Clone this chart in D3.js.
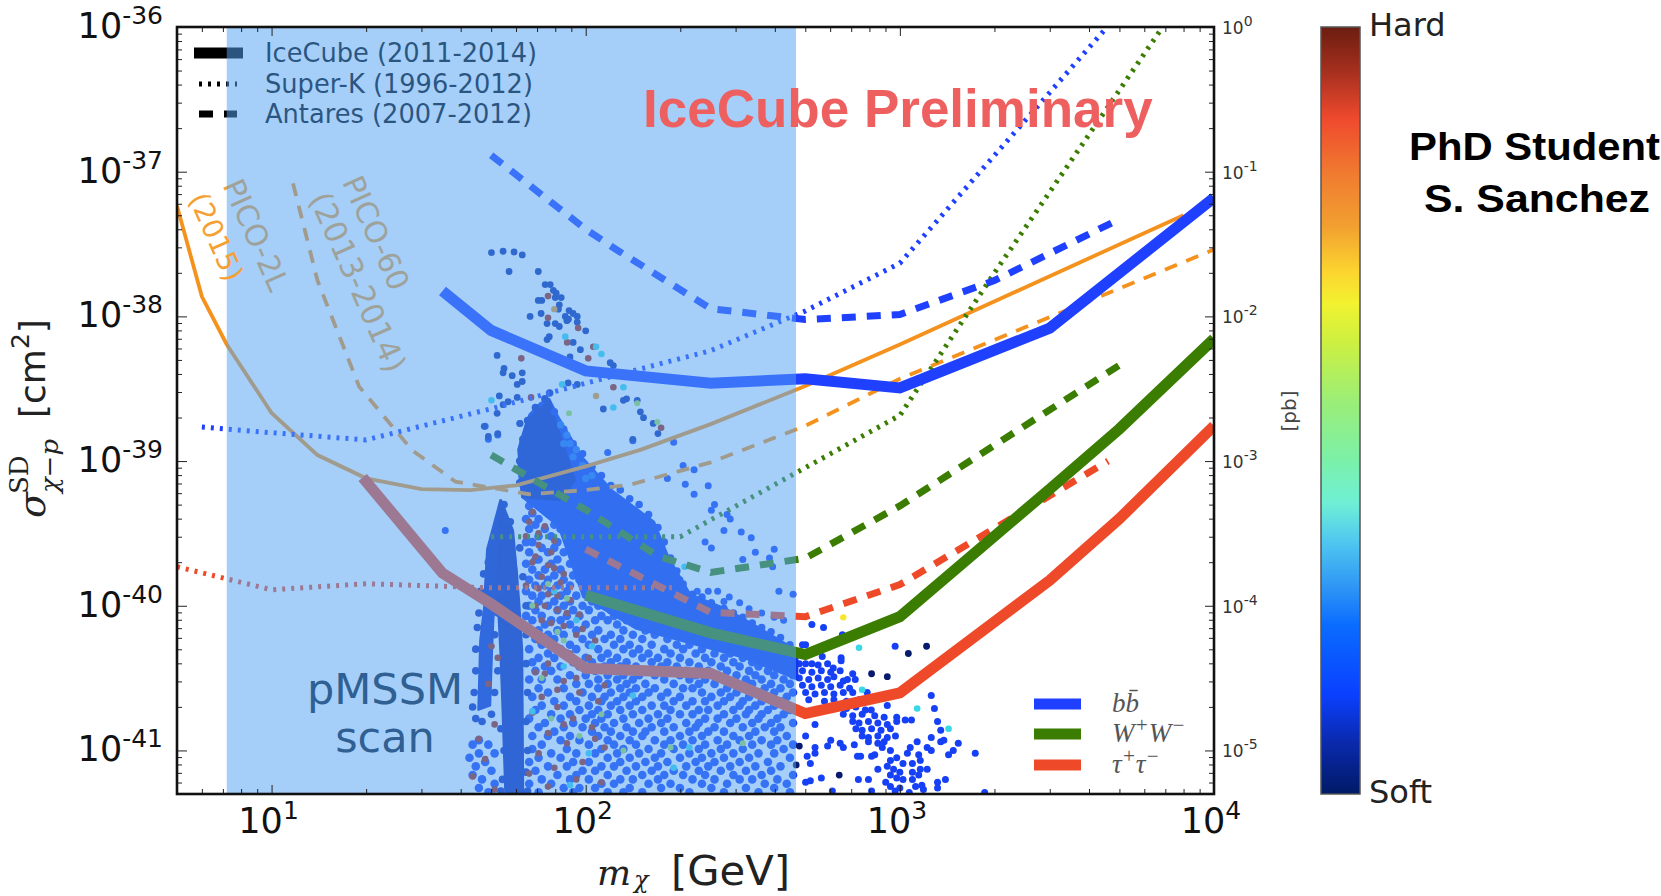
<!DOCTYPE html>
<html><head><meta charset="utf-8">
<script src="https://cdn.jsdelivr.net/npm/d3@7"></script>
<style>html,body{margin:0;background:#fff;overflow:hidden}svg{display:block}</style></head>
<body><svg id="c" width="1661" height="896"></svg>
<script>
// ---------- limits (mass in GeV, cross-section in cm^2)
const bbMasses=[35,50,100,250,500,1000,3000,10000];
const bbIce=[1.5e-38,8e-39,4.2e-39,3.45e-39,3.7e-39,3.2e-39,8.3e-39,6.6e-38];
const wwMasses=[100,250,500,1000,3000,5000,10000];
const wwIce=[1.18e-40,6.5e-41,4.6e-41,8.4e-41,6.4e-40,1.67e-39,7e-39];
const tauMasses=[19.5,35,50,100,250,500,1000,3000,5000,10000];
const tauIce=[7.7e-40,1.68e-40,1.03e-40,3.7e-41,3.4e-41,1.8e-41,2.5e-41,1.5e-40,4e-40,1.75e-39];
const bbAntMasses=[50,100,125,250,500,1000,2000,5000];
const bbAnt=[1.3e-37,4e-38,2.9e-38,1.13e-38,9.5e-39,1.03e-38,1.77e-38,4.7e-38];
const wwAntMasses=[50,100,170,250,500,1000,5000];
const wwAnt=[1.1e-39,4.6e-40,2.2e-40,1.7e-40,2.13e-40,4.9e-40,4.6e-39];
const tauAntMasses=[100,250,500,1000,4600];
const tauAnt=[2.46e-40,9e-41,8.4e-41,1.4e-40,1.0e-39];
const bbSkMasses=[6,10,20,50,100,250,500,1000,4570];
const bbSk=[1.72e-39,1.57e-39,1.4e-39,2.3e-39,3.45e-39,5.8e-39,1.09e-38,2.33e-38,1e-36];
const wwSkMasses=[50,100,200,500,1000,2000,6860];
const wwSk=[3e-40,3e-40,3e-40,9e-40,2.07e-39,2e-38,1e-36];
const tauSkMasses=[5,10,20,50,100,190];
const tauSk=[1.86e-40,1.29e-40,1.42e-40,1.33e-40,1.33e-40,1.33e-40];
const pico2Masses=[5,6,7.2,10,14,20,30,43,60,100,150,250,500,1000,8000];
const pico2=[5.8e-38,1.37e-38,6.4e-39,2.15e-39,1.1e-39,7.6e-40,6.4e-40,6.3e-40,6.8e-40,9.2e-40,1.2e-39,1.8e-39,3.3e-39,6.4e-39,5e-38];
const pico60Masses=[11.7,14,19,28,38.5,66,100,140,250,500,1000,10000];
const pico60=[8.3e-38,1.77e-38,3.27e-39,1.19e-39,7.2e-40,5.9e-40,6.3e-40,6.9e-40,9.8e-40,1.75e-39,3.7e-39,2.9e-38];

// ---------- pMSSM scan: [log10 sigma, [log10 mass ...]]
const softRows=[
[-39.31,[1.82,1.86]],[-39.36,[1.83,1.88,1.89]],[-39.40,[1.81,1.85]],[-39.44,[1.84,1.90]],[-39.47,[1.82,1.87,1.92]],
[-39.52,[1.85,1.89,1.94]],[-39.56,[1.81,1.83,1.91]],[-39.60,[1.86,1.90,1.96]],[-39.63,[1.82,1.88,1.93]],
[-39.68,[1.84,1.85,1.91,1.97]],[-39.71,[1.81,1.89,1.95]],[-39.75,[1.83,1.87,1.92,1.99]],[-39.79,[1.85,1.90,1.96,2.01]],
[-39.82,[1.82,1.88,1.93,1.98]],[-39.86,[1.84,1.87,1.91,1.95,2.03]],[-39.90,[1.81,1.89,1.94,2.00]],
[-39.93,[1.83,1.86,1.92,1.97,2.05]],[-39.97,[1.85,1.90,1.95,2.02,2.07]],[-40.00,[1.82,1.88,1.93,1.99,2.04]],
[-40.03,[1.84,1.91,1.96,2.01,2.08,2.11]],[-40.07,[1.81,1.86,1.94,1.98,2.05,2.09]],[-40.10,[1.83,1.89,1.92,2.03,2.07,2.13]],
[-40.13,[1.87,1.95,2.00,2.10,2.16]],[-40.17,[1.82,1.85,1.91,1.97,2.04,2.12,2.19]],[-40.20,[1.88,1.93,2.02,2.08,2.15,2.22]],
[-40.23,[1.84,1.90,1.99,2.06,2.11,2.18,2.26]],[-40.27,[1.86,1.95,2.01,2.09,2.14,2.21,2.29,2.33]],
[-40.30,[1.82,1.92,1.97,2.04,2.12,2.17,2.25,2.31,2.37]],[-40.33,[1.88,1.94,2.07,2.15,2.20,2.27,2.35,2.41,2.46]],
[-40.36,[1.85,1.90,2.00,2.05,2.10,2.18,2.23,2.30,2.38,2.44,2.50]],[-40.39,[1.83,1.96,2.02,2.08,2.13,2.21,2.26,2.33,2.40,2.47,2.53,2.57]],
[-40.42,[1.87,1.92,1.98,2.06,2.11,2.16,2.24,2.29,2.36,2.43,2.49,2.55,2.61]],[-40.45,[1.84,1.89,2.03,2.09,2.14,2.19,2.27,2.32,2.39,2.45,2.52,2.58,2.64]],
[-40.48,[1.95,2.00,2.07,2.12,2.17,2.22,2.30,2.35,2.42,2.48,2.54,2.60,2.66]],[-40.51,[1.82,1.86,1.91,2.04,2.10,2.15,2.25,2.33,2.38,2.44,2.51,2.56,2.63]],
[-40.54,[1.97,2.01,2.07,2.13,2.19,2.28,2.36,2.41,2.47,2.53,2.59,2.65]],[-40.57,[1.85,1.93,2.04,2.11,2.16,2.22,2.31,2.34,2.45,2.50,2.57,2.62]],
[-40.60,[1.88,1.99,2.08,2.14,2.20,2.26,2.37,2.43,2.48,2.55,2.60,2.66]],[-40.63,[1.83,1.95,2.02,2.06,2.12,2.18,2.24,2.30,2.40,2.46,2.52,2.58,2.64]],
[-40.66,[1.90,1.97,2.05,2.10,2.16,2.28,2.34,2.38,2.44,2.50,2.56,2.62]],[-40.69,[1.86,1.93,2.01,2.08,2.14,2.21,2.25,2.32,2.42,2.49,2.54,2.60]],
[-40.72,[1.84,1.98,2.04,2.11,2.18,2.27,2.36,2.39,2.47,2.52,2.58,2.65]],[-40.75,[1.89,1.95,2.02,2.07,2.15,2.23,2.30,2.34,2.44,2.51,2.56,2.63]],
[-40.78,[1.82,1.92,2.00,2.05,2.12,2.20,2.26,2.38,2.42,2.48,2.55,2.61]],[-40.81,[1.87,1.96,2.03,2.09,2.17,2.24,2.32,2.36,2.46,2.53,2.59,2.66]],
[-40.84,[1.85,1.93,1.99,2.06,2.13,2.21,2.28,2.35,2.41,2.50,2.57,2.62]],[-40.87,[1.90,2.02,2.08,2.15,2.19,2.25,2.33,2.39,2.44,2.54,2.60]],
[-40.90,[1.83,1.88,1.95,2.04,2.11,2.18,2.30,2.37,2.47,2.52,2.64]],[-40.93,[1.66,1.92,1.98,2.07,2.14,2.22,2.27,2.34,2.42,2.49,2.56,2.61]],
[-40.96,[1.64,1.69,1.86,2.01,2.09,2.16,2.25,2.31,2.38,2.45,2.53,2.59,2.66]],[-40.99,[1.83,1.94,2.05,2.12,2.20,2.28,2.36,2.43,2.50,2.63]],
[-41.02,[1.66,1.71,1.89,1.97,2.03,2.10,2.17,2.24,2.33,2.40,2.47,2.55,2.60]],[-41.05,[1.63,1.85,1.92,2.07,2.14,2.22,2.30,2.37,2.44,2.52,2.65]],
[-41.08,[1.68,1.82,1.96,2.01,2.11,2.19,2.26,2.35,2.41,2.49,2.58]],[-41.11,[1.65,1.88,1.94,2.05,2.09,2.16,2.23,2.32,2.39,2.46,2.54,2.62]],
[-41.14,[1.70,1.84,1.99,2.03,2.13,2.21,2.28,2.36,2.43,2.51,2.59]],[-41.17,[1.64,1.91,1.97,2.07,2.18,2.25,2.31,2.38,2.47,2.56,2.66]],
[-41.20,[1.67,1.86,1.95,2.01,2.11,2.15,2.23,2.34,2.41,2.49,2.53,2.61]],[-41.23,[1.71,1.82,1.89,2.05,2.09,2.20,2.27,2.37,2.45,2.57,2.64]],
[-41.26,[1.66,1.93,1.98,2.03,2.14,2.24,2.30,2.40,2.51,2.60]],[-41.29,[1.69,1.85,1.96,2.07,2.12,2.18,2.33,2.44,2.55,2.65]]
];
const edgePoints=[
[1.69,-39.7],[1.70,-39.62],[1.675,-39.78],[1.665,-39.9],[1.66,-40.05],[1.655,-40.15],[1.65,-40.3],[1.65,-40.45],[1.645,-40.6],[1.64,-40.7],[1.65,-40.78],[1.67,-40.8],[1.70,-40.75],[1.71,-40.6],[1.72,-40.45],[1.71,-40.2],[1.72,-40.05],[1.73,-39.9],[1.79,-39.6],[1.80,-39.8],[1.81,-40.0],[1.81,-40.2],[1.81,-40.4],[1.815,-40.6],[1.81,-40.8],[1.815,-41.0],[1.81,-41.15],[1.815,-41.28],[1.74,-41.0],[1.735,-41.2],[1.73,-40.85],[1.73,-41.28],[1.74,-39.3],[1.76,-39.42],
[1.79,-39.0],[1.79,-39.15],[1.80,-38.85],[1.815,-38.72],[1.84,-38.63],[1.87,-38.57],[1.885,-38.53],
[1.90,-38.66],[1.93,-38.78],[1.96,-38.88],[1.99,-38.95],[2.02,-39.04],[2.05,-39.1],[2.08,-39.17],[2.11,-39.2],[2.14,-39.26],[2.17,-39.3],[2.2,-39.37],[2.23,-39.46],[2.25,-39.56],[2.27,-39.67],[2.29,-39.76],[2.31,-39.85],[2.34,-39.92],[2.37,-39.94],[2.4,-39.98],[2.44,-40.02],[2.47,-40.05],[2.5,-40.08],[2.53,-40.12],[2.56,-40.15],[2.59,-40.18],[2.62,-40.22],[2.65,-40.27]
];
const softPoints=[
[1.68,-38.76],[1.72,-38.82],[1.69,-38.85],[1.79,-38.74],[2.07,-38.94],[2.28,-38.87],[2.15,-38.86],[2.31,-39.03],[2.345,-39.06],[2.317,-39.16],[2.39,-39.17],[2.345,-39.23],[2.26,-39.12],[2.41,-39.3],[2.40,-39.34],[2.45,-39.37],[2.46,-39.4],[2.44,-39.48],[2.495,-39.49],[2.527,-39.53],[2.38,-39.56],[2.40,-39.6],[2.54,-39.63],[2.50,-39.68],[2.60,-39.61],[2.585,-39.67],[2.595,-39.73],[2.39,-39.9],[2.42,-39.9],[2.355,-39.9],[2.615,-39.9],[2.66,-39.92],[2.457,-39.94],[2.44,-39.97],[2.49,-39.98],[2.52,-40.02],[2.56,-40.05],[2.60,-40.08],[2.63,-40.1],[2.27,-39.75],[2.30,-39.82],[1.553,-39.48],
[2.72,-40.13],[2.757,-40.15],[2.817,-40.20],[2.69,-40.27],[2.70,-40.27],[2.753,-40.35],[2.813,-40.36],[2.813,-40.38],[2.72,-40.40],[2.788,-40.43],[2.81,-40.45],[2.85,-40.47],[2.833,-40.51],[2.858,-40.51],[2.896,-40.60],[2.85,-40.60],[2.909,-40.72],[2.96,-40.69],[2.99,-40.77],[2.99,-40.80],[3.017,-40.79],[3.037,-40.79],[2.96,-40.82],[2.986,-40.90],[3.10,-40.62],[3.11,-40.71],[3.12,-40.80],[3.13,-40.86],[3.10,-40.91],[3.13,-40.94],[3.14,-40.93],[3.186,-40.95],[3.17,-41.0],[3.155,-41.03],[3.24,-41.02],[3.055,-40.94],[3.033,-40.98],[3.024,-41.02],[3.087,-40.98],[3.10,-41.0],[3.06,-41.03],[3.065,-41.07],[2.78,-40.93],[2.77,-40.97],[2.81,-40.95],[2.82,-40.98],[2.855,-40.96],[2.73,-40.98],[2.73,-41.02],[2.70,-40.90],[2.73,-40.82],[2.705,-41.04],[2.715,-41.09],[2.865,-41.04],[2.875,-41.04],[2.91,-41.04],[2.92,-41.03],[2.944,-40.98],[2.97,-41.0],[2.75,-41.19],[2.70,-41.22],[2.715,-41.21],[2.868,-41.2],[2.90,-41.2],[2.785,-41.28],[2.91,-41.28],[2.955,-41.22],[3.12,-41.22],[3.12,-41.26],[3.145,-41.2],[3.27,-41.29],
[2.97,-41.07],[2.99,-41.05],[3.01,-41.09],[2.96,-41.11],[2.93,-41.13],[2.98,-41.13],[3.0,-41.15],[2.97,-41.17],[2.99,-41.19],[3.01,-41.2],[3.04,-41.2],[3.05,-41.25],[3.065,-41.13],[3.087,-41.13],[3.06,-41.17],[3.07,-41.24],[3.075,-41.27],[3.04,-41.15],[3.04,-41.09],[2.97,-41.25],[3.0,-41.26],[2.985,-41.28],[3.03,-41.29],
[2.985,-40.28],[2.68,-40.40],[2.70,-40.40],[2.74,-40.41],[2.77,-40.40],[2.69,-40.45],[2.72,-40.46],[2.75,-40.45],[2.78,-40.46],[2.68,-40.50],[2.71,-40.51],[2.74,-40.50],[2.77,-40.51],[2.79,-40.49],[2.82,-40.52],[2.69,-40.55],[2.72,-40.56],[2.75,-40.55],[2.78,-40.56],[2.81,-40.55],[2.84,-40.57],[2.70,-40.60],[2.73,-40.61],[2.76,-40.60],[2.79,-40.61],[2.82,-40.60],[2.71,-40.65],[2.76,-40.66],[2.79,-40.65],[2.83,-40.66],[2.87,-40.65],[2.80,-40.70],[2.83,-40.71],[2.86,-40.70],[2.89,-40.72],[2.82,-40.75],[2.85,-40.76],[2.88,-40.75],[2.92,-40.76],[2.95,-40.77],[2.85,-40.80],[2.87,-40.81],[2.90,-40.80],[2.93,-40.81],[2.86,-40.85],[2.88,-40.86],[2.91,-40.85],[2.94,-40.86],[2.97,-40.85],[2.88,-40.90],[2.90,-40.91],[2.93,-40.90],[2.96,-40.91],[2.90,-40.94],[2.93,-40.95],[2.95,-40.94]
];
const deepPoints=[
[1.70,-37.56],[1.737,-37.55],[1.772,-37.555],[1.798,-37.575],[1.756,-37.69],[1.849,-37.69],[1.871,-37.78],[1.887,-37.78],[1.897,-37.82],[1.906,-37.84],[1.903,-37.87],[1.922,-37.87],[1.916,-37.92],[1.913,-37.95],[1.849,-37.89],[1.86,-37.89],[1.823,-38.0],[1.858,-37.98],[1.877,-38.05],[1.903,-38.05],[1.916,-38.07],[1.947,-37.96],[1.96,-37.98],[1.973,-38.0],[1.973,-38.04],[1.935,-38.0],[1.945,-38.02],[1.94,-38.03],[2.0,-38.1],[1.884,-38.14],[1.877,-38.16],[1.96,-38.18],[1.983,-38.23],[1.95,-38.28],[1.718,-38.27],[1.74,-38.36],[1.737,-38.39],[1.766,-38.41],[1.798,-38.39],[1.798,-38.45],[1.782,-38.47],[2.078,-38.32],[2.088,-38.34],[1.944,-38.46],[1.973,-38.47],[1.725,-38.55],[1.753,-38.59],[1.737,-38.61],[1.718,-38.67],[1.782,-38.56],[1.791,-38.74],[1.677,-38.76],[1.72,-38.81],[1.69,-38.83],[2.12,-38.58],[2.13,-38.57],[2.164,-38.58],[2.056,-38.64],[2.174,-38.66],[2.184,-38.70],[2.215,-38.74],[2.23,-38.81],[2.15,-38.85]
];
const hardPoints=[
[1.88,-37.86],[1.88,-38.01],[1.976,-38.08],[1.941,-38.18],[2.024,-38.21],[2.008,-38.29],[1.795,-38.29],[1.826,-38.56],[2.088,-38.49],[2.24,-38.77],
[1.83,-39.35],[1.87,-39.45],[1.81,-39.52],[1.85,-39.58],[1.89,-39.63],[1.83,-39.7],[1.90,-39.74],[1.86,-39.8],[1.92,-39.84],[1.81,-39.86],[1.88,-39.92],[1.95,-39.96],[1.84,-40.0],[1.91,-40.03],[1.98,-40.06],[1.86,-40.1],[1.93,-40.14],[1.83,-40.18],[1.97,-40.2],[2.03,-40.24],[1.89,-40.26],[1.70,-40.28],[1.95,-40.33],[1.72,-40.36],[1.88,-40.4],[2.0,-40.42],[1.84,-40.46],[1.93,-40.52],[1.69,-40.54],[1.98,-40.6],[1.86,-40.63],[2.04,-40.66],[1.91,-40.7],[1.83,-40.74],[1.96,-40.78],[1.71,-40.82],[2.02,-40.84],[1.88,-40.88],[1.66,-40.92],[1.94,-40.95],[2.06,-40.98],[1.85,-41.02],[1.68,-41.06],[1.99,-41.08],[1.9,-41.12],[1.82,-41.16],[1.64,-41.18],[1.97,-41.2],[2.05,-41.22],[1.88,-41.25],[1.71,-41.27],
[1.82,-39.42],[1.85,-39.5],[1.90,-39.55],[1.84,-39.66],[1.88,-39.72],[1.93,-39.78],[1.85,-39.88],[1.91,-39.93],[1.87,-40.0],[1.94,-40.05],[1.89,-40.12],[1.99,-40.16],[1.85,-40.24],[1.92,-40.3],[2.01,-40.36],[1.87,-40.47],[1.97,-40.5],[1.91,-40.58],[2.06,-40.55],[1.93,-40.82],[2.03,-40.92]
];
const cyanPoints=[[2.05,-38.26],[1.935,-38.14],[1.925,-38.47],[2.12,-38.49],[1.70,-38.58],[2.088,-38.63],[2.033,-38.21],[1.83,-40.73],[2.01,-41.02],[1.93,-40.42],[2.315,-39.73],[2.87,-40.29],[2.33,-40.98],[2.28,-41.12],[1.95,-41.24],[3.055,-40.71],[3.155,-40.85],[2.88,-40.58],[1.90,-39.9],[1.97,-40.1],[1.87,-40.22],[2.02,-40.28],[2.06,-40.44],[2.15,-40.62]];
const greenPoints=[[1.947,-38.67],[2.164,-38.60],[2.228,-38.73],[1.83,-40.0],[1.91,-40.18],[1.97,-40.38],[2.05,-40.75],[1.89,-40.78],[2.27,-40.98],[1.98,-40.9],[2.12,-41.0],[2.5,-40.95],[1.86,-40.5],[1.88,-39.85],[1.94,-39.95],[1.93,-40.24]];
const brightPoints=[[1.92,-38.75],[1.94,-38.82],[1.95,-38.88],[1.97,-38.92],[1.93,-38.88],[1.96,-38.97],[1.99,-39.03],[2.02,-39.1],[2.0,-39.12]];
const tanPoints=[[1.90,-37.95],[2.033,-38.55]];
const yellowPoints=[[2.82,-40.08]];
const darkPoints=[[2.91,-40.47],[2.96,-40.49],[3.085,-40.28],[3.027,-40.33],[2.807,-41.17],[2.68,-40.97],[2.67,-41.1]];
// regions so crowded that single points merge: outlines [log10 mass, log10 sigma]
const crowdedLobe=[[1.884,-38.57],[1.917,-38.71],[1.992,-38.98],[2.083,-39.2],[2.218,-39.42],[2.265,-39.67],[2.333,-39.92],[2.446,-40.02],[2.559,-40.16],[2.674,-40.31],[2.674,-40.51],[2.503,-40.36],[2.333,-40.26],[2.161,-40.16],[1.992,-39.94],[1.913,-39.45],[1.798,-39.25],[1.785,-39.05],[1.791,-38.88],[1.82,-38.68],[1.855,-38.6]];
const crowdedPeak=[[1.886,-38.58],[1.902,-38.71],[1.934,-38.92],[1.966,-39.13],[1.918,-39.27],[1.798,-39.25],[1.785,-38.92],[1.814,-38.71]];
const crowdedStemTop=[[1.728,-39.27],[1.766,-39.48],[1.782,-39.79],[1.782,-39.96],[1.677,-39.96],[1.686,-39.61]];
const crowdedStemRight=[[1.731,-39.27],[1.769,-39.48],[1.788,-39.96],[1.798,-40.31],[1.801,-41.30],[1.744,-41.30],[1.734,-40.65],[1.728,-40.31],[1.718,-39.89]];
const crowdedStemLeft=[[1.721,-39.55],[1.709,-39.96],[1.702,-40.31],[1.696,-40.69],[1.658,-40.72],[1.664,-40.24],[1.683,-39.89]];

// ---------- colour bar stops (position from top, colour)
const barPos=[0,.06,.12,.19,.26,.32,.36,.41,.49,.56,.62,.67,.73,.78,.87,.93,1];
const barCol=["#6b1d10","#a8301f","#ef4a2d","#f07a30","#f2a030","#fcd52f","#f2f22f","#cdf040","#9aee78","#7df0a5","#6ff0d5","#50c8f0","#2f96f5","#0a6cff","#0a40ff","#0a2ab0","#001a66"];
const xDecades=[1,2,3,4];
const yDecades=[-36,-37,-38,-39,-40,-41];
const pbDecades=[0,-1,-2,-3,-4,-5];
const bandRange=[7.2,467];

const BLUE="#2040ff",GREEN="#3a7d00",RED="#ee4a2a",ORANGE="#f5921e";
const svg=d3.select("#c");
const L=177,R=1214,T=27,B=794;
const x=d3.scaleLog().domain([5,1e4]).range([L,R]);
const y=d3.scaleLog().domain([5e-42,1e-36]).range([B,T]);
const pb=d3.scaleLog().domain([5e-6,1]).range([B,T]);
const defs=svg.append("defs");
defs.append("clipPath").attr("id","plot").append("rect").attr("x",L).attr("y",T).attr("width",R-L).attr("height",B-T);
const g=svg.append("g").attr("clip-path","url(#plot)");
const px=d=>x(10**d[0]), py=d=>y(10**d[1]);
const SOFT="#1640f5";
function dots(data,col,r){g.append("g").selectAll("circle").data(data).join("circle").attr("cx",px).attr("cy",py).attr("r",r).attr("fill",col);}
const softAll=softRows.flatMap(([s,ms])=>ms.map(m=>[m,s]));
dots(softAll,SOFT,4.3);
dots(softPoints,SOFT,3.5);
// crowded regions
const poly=d3.line().x(px).y(py);
[[crowdedStemLeft,"#0d2cc8"],[crowdedStemTop,"#0a26bc"],[crowdedStemRight,"#0a22b4"],[crowdedLobe,"#1038ec"],[crowdedPeak,"#0a26bc"]].forEach(([p,c])=>{
  g.append("path").attr("d",poly(p)+"Z").attr("fill",c).attr("stroke",c).attr("stroke-width",2).attr("stroke-linejoin","round");
});
dots(edgePoints.slice(0,41),"#0a26bc",3.8);
dots(edgePoints.slice(41),"#1038ec",3.8);
dots(brightPoints,"#1c6cf5",3.6);
dots(deepPoints,"#0a2aa8",3.4);
dots(darkPoints,"#071a6e",3.4);
dots(hardPoints,"#a8200c",3.3);
dots(cyanPoints,"#38d8e8",3.3);
dots(greenPoints,"#a8e04a",3);
dots(tanPoints,"#f09a20",3.2);
dots(yellowPoints,"#f7e72a",3.2);

const line=d3.line().x(d=>x(d[0])).y(d=>y(d[1]));
const curves=[
 [pico2Masses,pico2,ORANGE,3.8,null],
 [pico60Masses,pico60,ORANGE,3.8,"13 10"],
 [bbSkMasses,bbSk,BLUE,5,"3 6"],
 [wwSkMasses,wwSk,GREEN,5,"3 6"],
 [tauSkMasses,tauSk,RED,5,"3 6"],
 [bbAntMasses,bbAnt,BLUE,7,"14 11"],
 [wwAntMasses,wwAnt,GREEN,7,"14 11"],
 [tauAntMasses,tauAnt,RED,7,"14 11"],
 [bbMasses,bbIce,BLUE,11,null],
 [wwMasses,wwIce,GREEN,11,null],
 [tauMasses,tauIce,RED,11,null]
];
curves.forEach(([m,s,c,w,da])=>{
  g.append("path").attr("d",line(m.map((v,i)=>[v,s[i]]))).attr("fill","none").attr("stroke",c).attr("stroke-width",w)
   .attr("stroke-dasharray",da).attr("stroke-linejoin","miter");
});

function rot(t,cx,cy,fs,col){svg.append("text").attr("transform",`translate(${cx},${cy}) rotate(66)`).attr("text-anchor","middle").attr("dominant-baseline","central").attr("font-family","DejaVu Sans").attr("font-size",fs).attr("fill",col).text(t);}
rot("PICO-2L",256,235,30,"#f0a23a");
rot("PICO-60",376,233,30,"#f0a23a");
rot("(2013-2014)",358,282,31,"#f0a23a");

// style legend
const styleNames=["IceCube (2011-2014)","Super-K (1996-2012)","Antares (2007-2012)"];
const styleY=[53,84,114],styleW=[11,5,7],styleDash=[null,"3 6","14 11"];
const styleX1=[194,199,199],styleX2=[243,237,237];
styleNames.forEach((n,i)=>{
  svg.append("line").attr("x1",styleX1[i]).attr("x2",styleX2[i]).attr("y1",styleY[i]).attr("y2",styleY[i]).attr("stroke","#000").attr("stroke-width",styleW[i]).attr("stroke-dasharray",styleDash[i]);
  svg.append("text").attr("x",265).attr("y",styleY[i]+9).attr("font-family","DejaVu Sans").attr("font-size",25.7).attr("fill","#000").text(n);
});

// shaded band drawn over the scan
svg.append("rect").attr("x",x(bandRange[0])).attr("y",T).attr("width",x(bandRange[1])-x(bandRange[0])).attr("height",B-T).attr("fill","rgb(82,163,243)").attr("fill-opacity",.52);

rot("(2015)",216,237,28,"#f5a033");
["pMSSM","scan"].forEach((t,i)=>svg.append("text").attr("x",385).attr("y",[704,752][i]).attr("text-anchor","middle").attr("font-family","DejaVu Sans").attr("font-size",43).attr("fill","#2f5f93").text(t));
svg.append("text").attr("x",643).attr("y",127).attr("font-family","Liberation Sans").attr("font-weight","bold").attr("font-size",53).attr("fill","#ee6060").text("IceCube Preliminary");

// channel legend
const chanY=[704,734,765],chanCol=[BLUE,GREEN,RED];
chanY.forEach((v,i)=>svg.append("rect").attr("x",1034).attr("y",v-5.5).attr("width",47).attr("height",11).attr("fill",chanCol[i]));
function chan(i,base,sup1,sup2){
  const t=svg.append("text").attr("x",1112).attr("y",chanY[i]+8).attr("font-family","Liberation Serif").attr("font-style","italic").attr("font-size",27).attr("fill","#555");
  if(sup1===undefined){t.text(base);return;}
  t.append("tspan").text(base);
  t.append("tspan").attr("dy",-10).attr("font-size",21).text(sup1);
  t.append("tspan").attr("dy",10).text(base);
  t.append("tspan").attr("dy",-10).attr("font-size",21).text(sup2);
}
chan(0,"bb\u0304");
chan(1,"W","+","\u2212");
chan(2,"\u03C4","+","\u2212");

// axes (ticks inside)
const xMaj=[10,100,1000,1e4];
const xMin=d3.range(0,4).flatMap(e=>d3.range(2,10).map(k=>k*10**e)).filter(v=>v>=5&&v<1e4);
const yMaj=yDecades.map(e=>Number(`1e${e}`));
const yMin=d3.range(-42,-36).flatMap(e=>d3.range(2,10).map(k=>Number(`${k}e${e}`))).filter(v=>v>=5e-42&&v<1e-36);
const pMaj=pbDecades.map(e=>Number(`1e${e}`));
const pMin=d3.range(-6,0).flatMap(e=>d3.range(2,10).map(k=>Number(`${k}e${e}`))).filter(v=>v>=5e-6&&v<1);
function ax(gen,tr,vals,size){const s=svg.append("g").attr("transform",tr).call(gen.tickValues(vals).tickSize(size).tickFormat(""));s.select(".domain").remove();s.selectAll("line").attr("stroke","#222").attr("stroke-width",1);s.selectAll("text").remove();}
ax(d3.axisBottom(x),`translate(0,${B})`,xMaj,-9);ax(d3.axisBottom(x),`translate(0,${B})`,xMin,-5);
ax(d3.axisTop(x),`translate(0,${T})`,xMaj,-9);ax(d3.axisTop(x),`translate(0,${T})`,xMin,-5);
ax(d3.axisLeft(y),`translate(${L},0)`,yMaj,-10);ax(d3.axisLeft(y),`translate(${L},0)`,yMin,-5);
ax(d3.axisRight(pb),`translate(${R},0)`,pMaj,-9);ax(d3.axisRight(pb),`translate(${R},0)`,pMin,-5);
svg.append("rect").attr("x",L).attr("y",T).attr("width",R-L).attr("height",B-T).attr("fill","none").attr("stroke","#111").attr("stroke-width",2.6);

function pow(xx,yy,exp,fs,fe,dyUp,col,anchor){
  const t=svg.append("text").attr("x",xx).attr("y",yy).attr("font-family","DejaVu Sans").attr("font-size",fs).attr("fill",col).attr("text-anchor",anchor);
  t.append("tspan").text("10");
  t.append("tspan").attr("dy",-dyUp).attr("font-size",fe).text(exp);
}
yDecades.forEach(e=>pow(163,y(Number(`1e${e}`))+11,String(e),35,25,14,"#111","end"));
xDecades.forEach(e=>pow(x(10**e)-3,833,String(e),35,25,14,"#111","middle"));
pbDecades.forEach(e=>pow(1222,pb(Number(`1e${e}`))+7,String(e),17,14,8,"#333","start"));
svg.append("text").attr("transform","translate(1296,411) rotate(-90)").attr("text-anchor","middle").attr("font-family","DejaVu Sans").attr("font-size",20).attr("fill","#444").text("[pb]");

// y label
const yl=svg.append("g").attr("transform","translate(45,518) rotate(-90)");
yl.append("text").attr("font-family","DejaVu Serif").attr("font-style","italic").attr("font-size",38).attr("fill","#222").text("\u03C3");
yl.append("text").attr("x",24).attr("y",-17).attr("font-family","DejaVu Serif").attr("font-size",26).attr("fill","#222").text("SD");
yl.append("text").attr("x",25).attr("y",13).attr("font-family","DejaVu Serif").attr("font-style","italic").attr("font-size",25).attr("textLength",54).attr("lengthAdjust","spacingAndGlyphs").attr("fill","#222").text("\u03C7\u2212p");
const br=yl.append("text").attr("x",100).attr("font-family","DejaVu Sans").attr("font-size",36).attr("fill","#222");
br.append("tspan").text("[cm");br.append("tspan").attr("dy",-16).attr("font-size",25).text("2");br.append("tspan").attr("dy",16).text("]");
// x label
svg.append("text").attr("x",597).attr("y",885).attr("font-family","DejaVu Serif").attr("font-style","italic").attr("font-size",36).attr("fill","#222").text("m");
svg.append("text").attr("x",634).attr("y",888).attr("font-family","DejaVu Serif").attr("font-style","italic").attr("font-size",24).attr("fill","#222").text("\u03C7");
svg.append("text").attr("x",671).attr("y",885).attr("font-family","DejaVu Sans").attr("font-size",40).attr("textLength",119).attr("lengthAdjust","spacingAndGlyphs").attr("fill","#222").text("[GeV]");

// colour bar
const grad=defs.append("linearGradient").attr("id","bar").attr("x1",0).attr("x2",0).attr("y1",0).attr("y2",1);
barPos.forEach((p,i)=>grad.append("stop").attr("offset",p).attr("stop-color",barCol[i]));
svg.append("rect").attr("x",1321).attr("y",T).attr("width",39).attr("height",B-T).attr("fill","url(#bar)").attr("stroke","#555").attr("stroke-width",1.5);
svg.append("text").attr("x",1369).attr("y",36).attr("font-family","DejaVu Sans").attr("font-size",32).attr("fill","#222").text("Hard");
svg.append("text").attr("x",1369).attr("y",803).attr("font-family","DejaVu Sans").attr("font-size",32).attr("fill","#222").text("Soft");
const creditX=[1409,1424],creditW=[251,226];
["PhD Student","S. Sanchez"].forEach((t,i)=>svg.append("text").attr("x",creditX[i]).attr("y",[160,212][i]).attr("font-family","Liberation Sans").attr("font-weight","bold").attr("font-size",39).attr("textLength",creditW[i]).attr("lengthAdjust","spacingAndGlyphs").attr("fill","#000").text(t));
</script></body></html>
